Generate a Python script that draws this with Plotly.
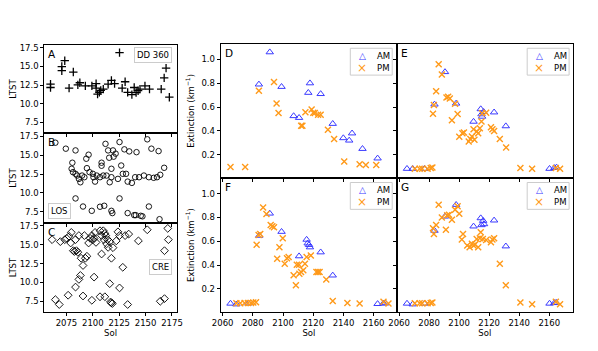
import plotly.graph_objects as go

# ---- left column: local true solar time of observations ----
A_sol = [2059.9, 2059.9, 2070.6, 2070.6, 2073.4, 2077.5, 2081.5, 2085.8, 2087.7, 2092.9,
         2099.1, 2103.1, 2103.1, 2104.5, 2106.2, 2107.5, 2109.9, 2114.5, 2117.6, 2120.6,
         2125.3, 2127.8, 2130.6, 2133.0, 2137.0, 2139.2, 2141.0, 2142.9, 2144.7, 2149.4,
         2153.7, 2164.8, 2167.6, 2169.4, 2172.5]
A_ltst = [12.62, 12.18, 14.99, 14.43, 15.77, 12.1, 14.25, 12.53, 12.82, 12.4,
          12.4, 12.7, 12.1, 11.3, 11.53, 11.8, 11.97, 12.62, 13.14, 12.7,
          16.85, 12.1, 12.95, 11.53, 11.23, 12.18, 11.5, 11.75, 11.97, 12.4,
          11.97, 11.97, 13.47, 14.77, 10.88]

B_sol = [2064.5, 2074.4, 2083.6, 2080.6, 2079.9, 2081.2, 2083.6, 2085.2, 2086.8, 2088.2,
         2089.8, 2092.0, 2093.8, 2096.0, 2094.4, 2096.9, 2100.0, 2100.6, 2102.1, 2103.7,
         2106.8, 2108.3, 2109.9, 2112.0, 2113.0, 2114.5, 2115.5, 2116.0, 2117.6, 2119.1,
         2119.7, 2121.6, 2123.8, 2125.3, 2126.9, 2128.4, 2129.9, 2131.5, 2134.5, 2137.0,
         2141.4, 2151.6, 2155.5, 2162.3, 2167.6, 2163.9, 2160.8, 2157.7, 2153.1, 2148.4,
         2143.8, 2140.1, 2133.0, 2117.6, 2108.3,
         2083.6, 2090.7, 2099.0, 2106.8, 2110.8, 2117.6, 2118.5, 2125.3, 2133.0, 2139.2,
         2145.4, 2147.0, 2153.1, 2163.2, 2140.7]
B_ltst = [16.65, 15.86, 15.63, 14.0, 13.2, 12.75, 12.53, 12.3, 11.86, 11.41,
          12.3, 12.08, 14.53, 15.06, 13.28, 12.75, 12.53, 12.08, 11.5, 12.3,
          12.08, 14.0, 12.3, 16.5, 12.3, 15.63, 14.66, 11.41, 13.2, 15.63,
          14.8, 15.2, 11.86, 16.74, 13.63, 12.53, 15.77, 12.53, 15.5, 11.33,
          15.4, 17.1, 15.86, 15.54, 13.33, 12.4, 12.08, 12.0, 12.08, 12.3,
          12.08, 12.08, 11.5, 12.08, 13.6,
          9.27, 8.2, 7.63, 8.17, 8.3, 7.63, 7.33, 9.27, 7.33, 7.06,
          6.97, 6.9, 8.2, 6.52, 7.06]

C_sol = [2061.4, 2069.2, 2073.4, 2075.3, 2077.5, 2079.0, 2079.6, 2081.5, 2082.7, 2084.5,
         2083.6, 2085.8, 2086.8, 2088.9, 2090.7, 2092.0, 2092.9, 2094.4, 2096.0, 2097.5,
         2099.1, 2100.0, 2101.2, 2102.1, 2103.0, 2106.8, 2108.3, 2108.3, 2109.9, 2110.5,
         2111.4, 2112.3, 2113.0, 2113.9, 2114.5, 2116.0, 2117.6, 2119.1, 2122.2, 2123.8,
         2125.3, 2128.4, 2130.6, 2134.0, 2143.2, 2151.6, 2171.0, 2171.6, 2167.9,
         2064.5, 2068.2, 2076.6, 2083.6, 2086.8, 2088.2, 2090.7, 2099.1, 2101.2, 2106.8,
         2111.4, 2116.0, 2116.7, 2117.6, 2118.5, 2125.3, 2133.0, 2163.9, 2167.9]
C_ltst = [15.66, 15.4, 15.66, 15.83, 16.1, 15.22, 16.62, 14.2, 14.1, 14.2,
          15.66, 14.0, 16.2, 13.2, 12.24, 16.2, 13.2, 13.46, 15.22, 15.83,
          16.2, 15.66, 15.83, 16.62, 15.3, 16.84, 13.76, 16.2, 16.84, 15.66,
          16.5, 16.2, 15.1, 15.66, 14.64, 15.4, 13.2, 14.6, 15.5, 16.7,
          16.2, 12.0, 16.2, 16.4, 15.5, 16.97, 17.15, 15.66, 14.2,
          7.72, 7.07, 8.3, 9.38, 10.4, 10.92, 8.2, 7.63, 10.7, 8.1,
          8.1, 9.83, 7.4, 7.3, 7.2, 9.27, 7.07, 7.5, 7.85]

# ---- right column: extinction, AM / PM ----
D_am_sol = [2084.0, 2091.2, 2099.0, 2107.0, 2110.6, 2116.7, 2117.8, 2124.9, 2132.9, 2139.9,
            2143.8, 2145.7, 2152.6, 2162.6]
D_am_ext = [0.79, 1.06, 0.77, 0.525, 0.51, 0.72, 0.80, 0.71, 0.46, 0.34,
            0.32, 0.38, 0.25, 0.17]
D_pm_sol = [2065.2, 2074.9, 2084.0, 2094.0, 2095.7, 2097.0, 2112.0, 2112.8, 2114.8, 2118.9,
            2120.0, 2121.0, 2123.2, 2124.9, 2129.7, 2133.8, 2140.5, 2150.7, 2154.8, 2161.7]
D_pm_ext = [0.097, 0.097, 0.736, 0.81, 0.63, 0.55, 0.444, 0.444, 0.556, 0.58,
            0.553, 0.55, 0.536, 0.536, 0.41, 0.333, 0.144, 0.12, 0.114, 0.114]

E_am_sol = [2065.3, 2069.1, 2076.9, 2083.6, 2090.6, 2098.0, 2109.6, 2114.4, 2114.9, 2115.3,
            2116.3, 2123.3, 2131.1, 2160.2, 2163.4, 2164.9]
E_am_ext = [0.083, 0.083, 0.083, 0.622, 0.894, 0.63, 0.478, 0.583, 0.54, 0.52,
            0.56, 0.556, 0.44, 0.083, 0.09, 0.094]
E_pm_sol = [2070.5, 2073.7, 2075.4, 2079.0, 2081.1, 2082.2, 2086.4, 2088.5, 2084.7, 2083.2,
            2082.6, 2091.6, 2092.7, 2093.8, 2097.3, 2099.0, 2095.2, 2100.1, 2102.2, 2103.2,
            2106.4, 2107.5, 2108.5, 2109.6, 2110.2, 2111.7, 2112.7, 2113.8, 2114.9, 2115.3,
            2118.0, 2121.2, 2122.2, 2123.3, 2127.1, 2131.3, 2140.8, 2148.6, 2164.4, 2167.2]
E_pm_ext = [0.083, 0.083, 0.083, 0.083, 0.089, 0.094, 0.958, 0.872, 0.733, 0.617,
            0.544, 0.68, 0.686, 0.672, 0.628, 0.542, 0.49, 0.35, 0.38, 0.386,
            0.311, 0.333, 0.353, 0.414, 0.325, 0.394, 0.38, 0.422, 0.478, 0.547,
            0.553, 0.43, 0.414, 0.40, 0.333, 0.261, 0.089, 0.083, 0.089, 0.083]

F_am_sol = [2065.2, 2069.1, 2077.1, 2084.2, 2091.2, 2099.0, 2110.6, 2115.6, 2116.3, 2117.2,
            2117.8, 2124.9, 2132.9, 2162.6, 2166.5, 2167.8]
F_am_ext = [0.078, 0.072, 0.08, 0.647, 0.833, 0.68, 0.475, 0.614, 0.583, 0.57,
            0.55, 0.508, 0.314, 0.075, 0.08, 0.08]
F_pm_sol = [2069.1, 2071.7, 2074.5, 2076.7, 2078.8, 2080.3, 2082.1, 2082.5, 2083.8, 2084.9,
            2086.8, 2089.0, 2091.8, 2092.9, 2094.0, 2096.1, 2097.6, 2099.8, 2101.1, 2102.6,
            2103.7, 2107.0, 2108.5, 2109.1, 2110.6, 2110.8, 2111.9, 2113.4, 2114.5, 2115.6,
            2118.4, 2122.1, 2123.2, 2124.2, 2128.6, 2132.9, 2142.6, 2150.7, 2166.5, 2169.8]
F_pm_ext = [0.08, 0.08, 0.083, 0.083, 0.083, 0.086, 0.089, 0.57, 0.653, 0.661,
            0.883, 0.828, 0.736, 0.725, 0.717, 0.453, 0.55, 0.625, 0.411, 0.458,
            0.467, 0.314, 0.231, 0.403, 0.403, 0.328, 0.342, 0.356, 0.411, 0.467,
            0.48, 0.342, 0.342, 0.342, 0.28, 0.10, 0.083, 0.078, 0.092, 0.078]

G_am_sol = [2065.3, 2069.1, 2076.9, 2083.6, 2090.6, 2098.0, 2109.6, 2114.4, 2114.9, 2116.0,
            2116.6, 2123.3, 2131.1, 2160.2, 2163.4, 2164.6]
G_am_ext = [0.078, 0.072, 0.078, 0.689, 0.808, 0.906, 0.725, 0.794, 0.736, 0.772,
            0.744, 0.775, 0.558, 0.078, 0.083, 0.086]
G_pm_sol = [2070.5, 2073.7, 2075.4, 2079.0, 2081.1, 2082.2, 2082.6, 2083.2, 2084.7, 2086.4,
            2088.5, 2091.2, 2092.1, 2093.3, 2095.2, 2097.3, 2099.0, 2100.1, 2102.6, 2101.8,
            2105.4, 2107.0, 2108.5, 2109.6, 2110.6, 2111.7, 2112.7, 2113.8, 2114.4, 2115.8,
            2118.0, 2121.2, 2122.2, 2123.3, 2127.1, 2131.1, 2140.8, 2148.6, 2164.4, 2167.2]
G_pm_ext = [0.08, 0.08, 0.08, 0.08, 0.083, 0.086, 0.708, 0.661, 0.736, 0.906,
            0.80, 0.697, 0.817, 0.822, 0.78, 0.864, 0.894, 0.831, 0.661, 0.614,
            0.564, 0.55, 0.578, 0.564, 0.572, 0.619, 0.55, 0.625, 0.675, 0.619,
            0.611, 0.592, 0.614, 0.625, 0.411, 0.231, 0.086, 0.072, 0.092, 0.072]

# page body has an 8px margin, so the figure is 8px smaller and positions shifted
OFF = 8
W, H = 598 - OFF, 351 - OFF
FONT = "DejaVu Sans"
FS = 8.5
AM_COL = "#3a3aff"
PM_COL = "#ff9a1a"


def fx(p):
    return (p - OFF) / W


def fy(p):
    return 1 - (p - OFF) / H


fig = go.Figure()

# left panels
left = [(A_sol, A_ltst, "cross-thin", 6, 1.3), (B_sol, B_ltst, "circle-open", 5.5, 0.9),
        (C_sol, C_ltst, "diamond-open", 6, 0.9)]
for i, (xs, ys, sym, sz, lw) in enumerate(left, start=1):
    fig.add_trace(go.Scatter(x=xs, y=ys, mode="markers", xaxis="x%d" % i, yaxis="y%d" % i,
                             marker=dict(symbol=sym, size=sz, color="black",
                                         line=dict(color="black", width=lw)),
                             showlegend=False))

# right panels (axes 4..7 = D, E, F, G)
right = [(D_am_sol, D_am_ext, D_pm_sol, D_pm_ext), (E_am_sol, E_am_ext, E_pm_sol, E_pm_ext),
         (F_am_sol, F_am_ext, F_pm_sol, F_pm_ext), (G_am_sol, G_am_ext, G_pm_sol, G_pm_ext)]
for k, (ax, ay, px_, py_) in enumerate(right):
    n = k + 4
    fig.add_trace(go.Scatter(x=ax, y=ay, mode="markers", name="AM", showlegend=False,
                             xaxis="x%d" % n, yaxis="y%d" % n,
                             marker=dict(symbol="triangle-up-open", size=6.5, color=AM_COL,
                                         line=dict(color=AM_COL, width=1))))
    fig.add_trace(go.Scatter(x=px_, y=py_, mode="markers", name="PM", showlegend=False,
                             xaxis="x%d" % n, yaxis="y%d" % n,
                             marker=dict(symbol="x-thin", size=6, color=PM_COL,
                                         line=dict(color=PM_COL, width=1.4))))

axbase = dict(showline=True, linecolor="black", linewidth=1, mirror=True, ticks="outside",
              ticklen=3, tickwidth=1, tickcolor="black", showgrid=False, zeroline=False,
              tickangle=0, tickfont=dict(size=FS, color="black"))

lay = dict(width=W, height=H, margin=dict(l=0, r=0, t=0, b=0),
           paper_bgcolor="white", plot_bgcolor="white", showlegend=False,
           font=dict(family=FONT, size=FS, color="black"))

rows_l = [(43, 132), (132, 222), (222, 312)]
for i, (t, b) in enumerate(rows_l, start=1):
    xa = dict(axbase, domain=[fx(36), fx(172)], anchor="y%d" % i,
              range=[2054, 2179.6], tickvals=[2075, 2100, 2125, 2150, 2175],
              showticklabels=(i == 3))
    if i == 3:
        xa["title"] = dict(text="Sol", standoff=0, font=dict(size=FS))
    lay["xaxis%d" % i] = xa
    lay["yaxis%d" % i] = dict(axbase, domain=[fy(b), fy(t)], anchor="x%d" % i,
                              range=[6.05, 17.9], tickvals=[7.5, 10, 12.5, 15, 17.5],
                              tickformat=".1f",
                              title=dict(text="LTST", standoff=5, font=dict(size=FS)))

panels_r = {4: ((217, 398), (42, 177)), 5: ((398, 578), (42, 177)),
            6: ((217, 398), (177, 312)), 7: ((398, 578), (177, 312))}
for n, ((l, r), (t, b)) in panels_r.items():
    xa = dict(axbase, domain=[fx(l), fx(r)], anchor="y%d" % n,
              range=[2058.7, 2175.5], tickvals=[2060, 2080, 2100, 2120, 2140, 2160],
              showticklabels=n in (6, 7))
    if n in (6, 7):
        xa["title"] = dict(text="Sol", standoff=0, font=dict(size=FS))
    ya = dict(axbase, domain=[fy(b), fy(t)], anchor="x%d" % n,
              range=[0.005, 1.13], tickvals=[0.2, 0.4, 0.6, 0.8, 1.0],
              tickformat=".1f", showticklabels=n in (4, 6))
    if n in (4, 6):
        ya["title"] = dict(text="Extinction (km<sup>\u22121</sup>)", standoff=5,
                           font=dict(size=FS))
    lay["xaxis%d" % n] = xa
    lay["yaxis%d" % n] = ya

fig.update_layout(**lay)

# panel letters
labels = [("A", 38, 44), ("B", 38, 133), ("C", 38, 223), ("D", 219, 43),
          ("E", 400, 43), ("F", 219, 178), ("G", 400, 178)]
for txt, lx, ly in labels:
    fig.add_annotation(text=txt, x=fx(lx), y=fy(ly), xref="paper", yref="paper",
                       xanchor="left", yanchor="top", showarrow=False,
                       font=dict(size=10.5, color="black"))

# text boxes in left panels
boxes = [("DD 360", 147.5, 53.7), ("LOS", 51.5, 210.5), ("CRE", 155.5, 267)]
for txt, cx, cy in boxes:
    fig.add_annotation(text=txt, x=fx(cx), y=fy(cy), xref="paper", yref="paper",
                       xanchor="center", yanchor="middle", showarrow=False,
                       font=dict(size=FS, color="black"), bgcolor="white",
                       bordercolor="#cccccc", borderwidth=1, borderpad=2)

# compact legends (matplotlib style) for D, E, F, G
leg_pos = [(350, 46.5), (531.5, 46.5), (350, 181.5), (531.5, 181.5)]
for lx, ly in leg_pos:
    fig.add_shape(type="rect", xref="paper", yref="paper",
                  x0=fx(lx), x1=fx(lx + 43), y0=fy(ly + 27), y1=fy(ly),
                  line=dict(color="#cccccc", width=1), fillcolor="rgba(255,255,255,0.8)")
    for j, (sym, col, name) in enumerate([("\u25b3", AM_COL, "AM"), ("\u00d7", PM_COL, "PM")]):
        yy = fy(ly + 7.5 + j * 12.5)
        fig.add_annotation(text=sym, x=fx(lx + 12.5), y=yy, xref="paper", yref="paper",
                           xanchor="center", yanchor="middle", showarrow=False,
                           font=dict(size=9 if j == 0 else 12, color=col))
        fig.add_annotation(text=name, x=fx(lx + 25.5), y=yy, xref="paper", yref="paper",
                           xanchor="left", yanchor="middle", showarrow=False,
                           font=dict(size=FS, color="black"))

fig.write_html("out.html")
